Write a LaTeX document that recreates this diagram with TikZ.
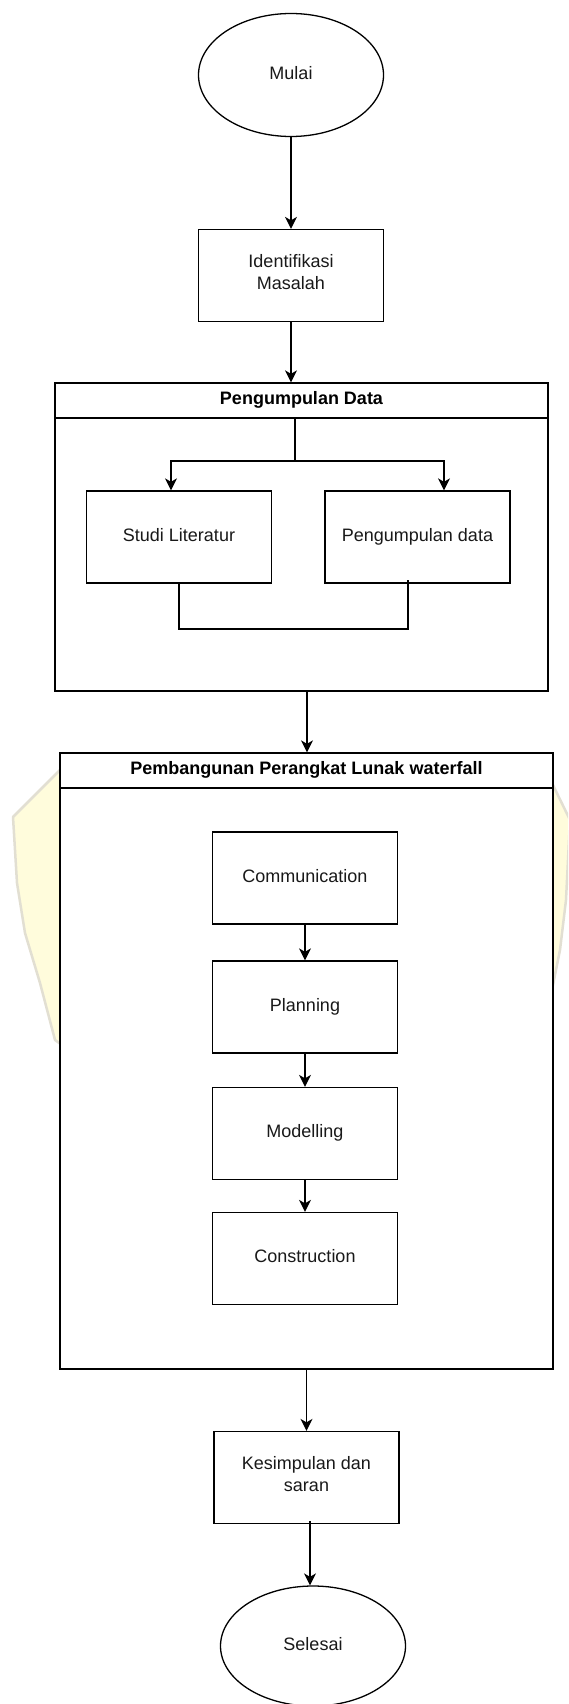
\documentclass[tikz,border=0pt]{standalone}
\usepackage{fontspec}
\setmainfont{Liberation Sans}
\usetikzlibrary{shapes.geometric,arrows.meta,calc}
\definecolor{wmfill}{HTML}{FFFCDC}
\definecolor{wmedge}{HTML}{E2DFD2}
\begin{document}
\begin{tikzpicture}[x=1pt,y=-1pt,
  txt/.style={font=\fontsize{18}{22}\selectfont,text=black!90,execute at begin node=\strut,execute at end node=\strut},
  box/.style={txt,draw,line width=1.3pt,fill=white,minimum width=185pt,minimum height=92pt,inner sep=0pt,align=center},
  oval/.style={txt,draw,ellipse,line width=1.3pt,fill=white,minimum width=185pt,minimum height=123pt,inner sep=0pt},
  contbody/.style={draw,line width=1.3pt,fill=white,minimum width=493pt,inner sep=0pt},
  conthead/.style={draw,line width=1.3pt,fill=white,minimum width=493pt,minimum height=35pt,inner sep=0pt,font=\bfseries\fontsize{18}{22}\selectfont,execute at begin node=\strut},
  ln/.style={line width=1.3pt},
  arr/.style={line width=1.3pt,-{Stealth[length=12pt,width=12pt,inset=3.5pt]}}]
\useasboundingbox (0,0) rectangle (568,1704);
\clip (0,0) rectangle (568,1704);
% faint watermark behind the diagram
\filldraw[fill=wmfill,draw=wmedge,line width=2.5pt,line join=round]
  (62,768) -- (13,817) -- (17,883) -- (25,933) -- (40,983) -- (55,1040) -- (62,1045)
  -- (550,1000) -- (553,985) -- (560,950) -- (566,900) -- (570,820) -- (553,785) -- (550,790) -- cycle;

% top part
\node[oval] (mulai) at (291,75) {Mulai};
\node[box] (ident) at (291,275.5) {Identifikasi\\Masalah};

% container 1
\node[contbody,minimum height=273pt] (c1) at (301.5,554.5) {};
\node[conthead] (c1head) at (301.5,400.5) {Pengumpulan Data};
\node[box] (studi) at (179,537) {Studi Literatur};
\node[box] (pdata) at (417.5,537) {Pengumpulan data};
\coordinate (fork) at (295,461);
\coordinate (join) at (408,629);

% container 2
\node[contbody,minimum height=581pt] (c2) at (306.5,1078.5) {};
\node[conthead] (c2head) at (306.5,770.5) {Pembangunan Perangkat Lunak waterfall};
\node[box] (comm) at (305,878) {Communication};
\node[box] (plan) at (305,1007) {Planning};
\node[box] (model) at (305,1133.5) {Modelling};
\node[box] (constr) at (305,1258.5) {Construction};

% bottom part
\node[box] (kes) at (306.5,1477.5) {Kesimpulan dan\\saran};
\node[oval,minimum height=120pt] (selesai) at (313,1646) {Selesai};

% connectors
\draw[arr] (mulai.south) -- (ident.north);
\draw[arr] (ident.south) -- (ident.south |- c1head.north);
\draw[ln] (c1head.south -| fork) -- (fork);
\draw[arr] (fork) -| ([xshift=-8pt]studi.north);
\draw[arr] (fork) -| ([xshift=26.5pt]pdata.north);
\draw[ln] (studi.south) |- (join) -- ([xshift=-9.5pt,yshift=4pt]pdata.south);
\draw[arr] ([xshift=5.5pt]c1.south) -- ([xshift=5.5pt]c1.south |- c2head.north);
\draw[arr] (comm.south) -- (plan.north);
\draw[arr] (plan.south) -- (model.north);
\draw[arr] (model.south) -- (constr.north);
\draw[arr] (c2.south) -- (kes.north);
\draw[arr] ([xshift=3.5pt,yshift=3pt]kes.south) -- ([xshift=3.5pt]kes.south |- selesai.north);
\end{tikzpicture}
\end{document}
